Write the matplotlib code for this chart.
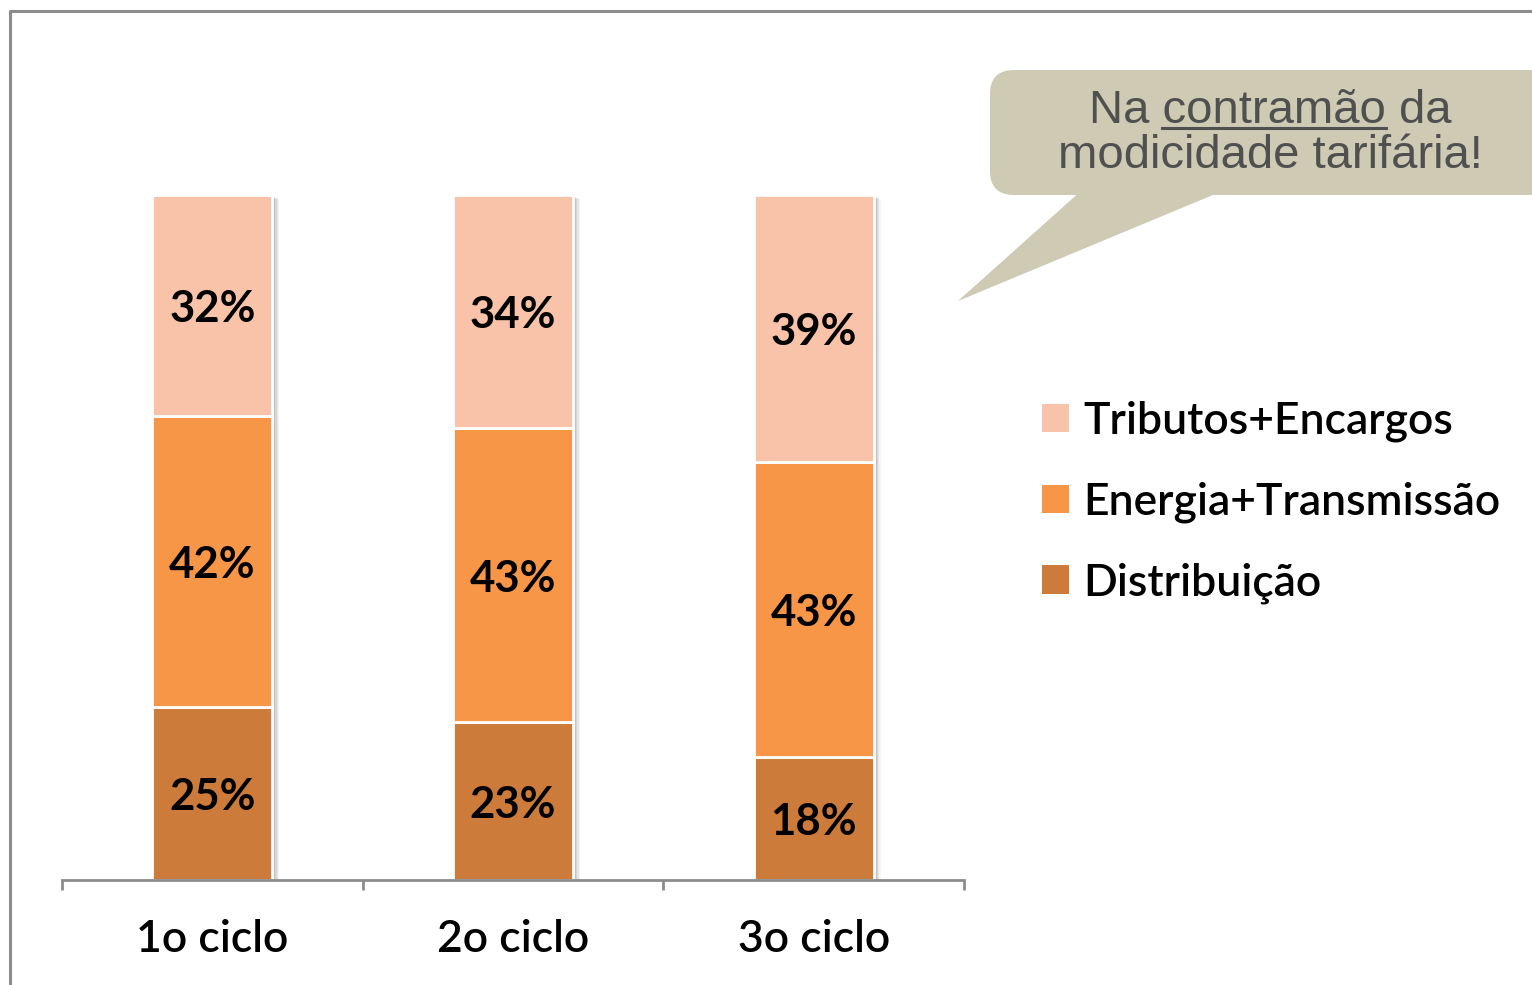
import matplotlib
matplotlib.use('Agg')
import matplotlib.pyplot as plt
import matplotlib.patheffects as pe
from matplotlib.patches import FancyBboxPatch, Polygon, Patch
from matplotlib.lines import Line2D
from matplotlib.transforms import IdentityTransform
import numpy as np

# ---------------- data ----------------
categories = ['1o ciclo', '2o ciclo', '3o ciclo']
distribuicao = [25, 23, 18]
energia = [42, 43, 43]
tributos = [32, 34, 39]
series_names = ['Distribuição', 'Energia+Transmissão', 'Tributos+Encargos']
series_colors = ['#CC7B3A', '#F79646', '#F9C3A9']
callout_line1 = ('Na ', 'contramão', ' da')
callout_line2 = 'modicidade tarifária!'

W, H = 1532, 985
fig = plt.figure(figsize=(W / 100, H / 100), dpi=100)
fig.patch.set_facecolor('white')
ident = IdentityTransform()

def fy(y):
    return H - y

# outer frame (top + left visible)
fig.add_artist(Line2D([9.5, 9.5, W + 5], [fy(H + 5), fy(11), fy(11)],
                      transform=ident, color='#8c8c8c', lw=2.2))

ax = fig.add_axes([62 / W, 1 - 880 / H, (964 - 62) / W, (880 - 195) / H])
series = [distribuicao, energia, tributos]
totals = np.sum(series, axis=0).astype(float)
x = np.arange(len(categories))
bw = 0.4

# base bars carrying a soft shadow
base = ax.bar(x, totals / totals, bw, color='white', zorder=2)
shadow = [pe.SimplePatchShadow(offset=(o, -o * 0.6), shadow_rgbFace='#808080', alpha=a)
          for o, a in [(5.0, 0.08), (4.0, 0.12), (3.0, 0.16), (2.0, 0.20), (1.0, 0.22)]]
for b in base:
    b.set_path_effects(shadow + [pe.Normal()])

bottom = np.zeros(len(categories))
for vals, name, color in zip(series, series_names, series_colors):
    share = np.array(vals) / totals
    ax.bar(x, share, bw, bottom=bottom, color=color, edgecolor='white',
           linewidth=2, label=name, zorder=3)
    for xi, bi, si, v in zip(x, bottom, share, vals):
        ax.text(xi, bi + si / 2, f'{v}%', ha='center', va='center_baseline',
                fontsize=31.5, fontweight='bold', family='Lato', color='black', zorder=5)
    bottom += share

ax.set_xlim(-0.5, len(categories) - 0.5)
ax.set_ylim(0, 1)
for s in ['left', 'right', 'top']:
    ax.spines[s].set_visible(False)
ax.spines['bottom'].set_color('#8c8c8c')
ax.spines['bottom'].set_linewidth(2)
ax.spines['bottom'].set_zorder(4)
ax.set_yticks([])
ax.set_xticks(np.arange(len(categories) + 1) - 0.5)
ax.set_xticklabels([])
ax.tick_params(axis='x', which='major', direction='out', length=7.5, width=2, color='#8c8c8c')
ax.set_xticks(x, minor=True)
ax.set_xticklabels(categories, minor=True, fontsize=32, family='Lato', fontweight='semibold')
ax.tick_params(axis='x', which='minor', length=0, pad=28)
ax.patch.set_alpha(0)

# legend
handles = [Patch(facecolor=c, edgecolor='none') for c in series_colors[::-1]]
leg = fig.legend(handles, series_names[::-1], loc='upper left',
                 bbox_to_anchor=(1042 / W, 1 - 401 / H), frameon=False,
                 prop={'family': 'Lato', 'size': 32, 'weight': 'semibold'},
                 handlelength=0.6, handleheight=0.6, handletextpad=0.32,
                 labelspacing=0.88, borderaxespad=0, borderpad=0)

# callout bubble
bub_color = '#CECAB4'
box = FancyBboxPatch((990, fy(195)), 600, 125, boxstyle='round,pad=0,rounding_size=24',
                     transform=ident, facecolor=bub_color, edgecolor='none')
fig.add_artist(box)
ptr = Polygon([(1082, fy(190)), (1225, fy(190)), (958, fy(301))], closed=True,
              transform=ident, facecolor=bub_color, edgecolor='none')
fig.add_artist(ptr)

font_c = dict(family='Liberation Sans', size=34, color='#505050')
full1 = ''.join(callout_line1)
t1 = fig.text(1270, fy(123), full1, transform=ident, ha='center', va='baseline', **font_c)
fig.text(1270, fy(168), callout_line2, transform=ident, ha='center', va='baseline', **font_c)

# underline of "contramão"
renderer = fig.canvas.get_renderer()
def width(s):
    tt = fig.text(0, 0, s, transform=ident, **font_c)
    w = tt.get_window_extent(renderer).width
    tt.remove()
    return w
bb = t1.get_window_extent(renderer)
wfull = width(full1)
x0 = bb.x0 + wfull - width(callout_line1[1] + callout_line1[2])
x1 = bb.x0 + width(callout_line1[0] + callout_line1[1])
fig.add_artist(Line2D([x0, x1], [fy(127.5), fy(127.5)], transform=ident, color='#505050', lw=2.2))

fig.savefig('out.png', dpi=100)
